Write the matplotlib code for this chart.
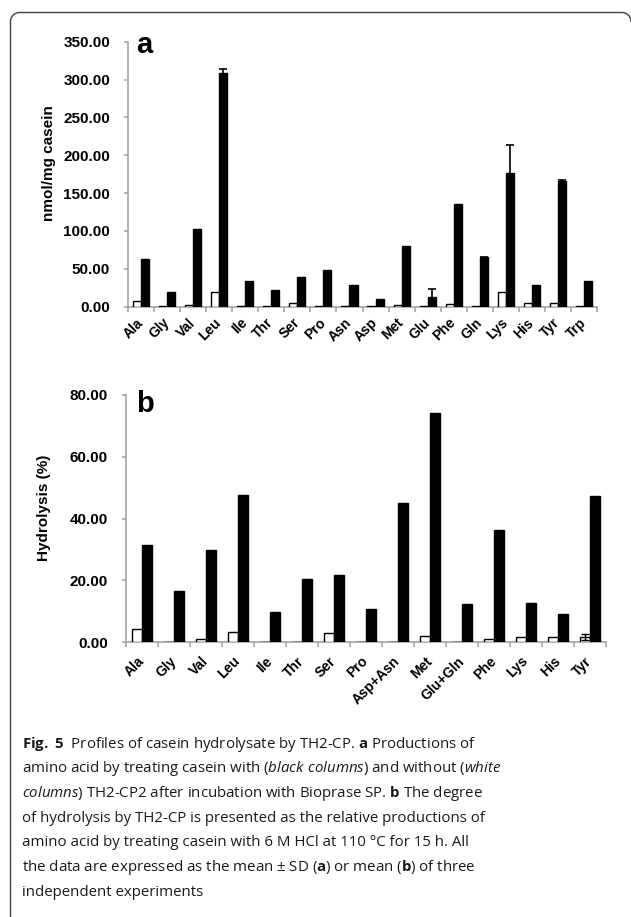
import numpy as np
import matplotlib
matplotlib.use('Agg')
import matplotlib.pyplot as plt
from matplotlib.lines import Line2D

# ---------------- data ----------------
cats_a = ['Ala', 'Gly', 'Val', 'Leu', 'Ile', 'Thr', 'Ser', 'Pro', 'Asn', 'Asp',
          'Met', 'Glu', 'Phe', 'Gln', 'Lys', 'His', 'Tyr', 'Trp']
with_a = [63, 20, 102, 308, 34, 22.5, 39, 49, 28, 10.5,
          80, 13, 135, 65, 177, 28, 166, 33.5]
with_a_sd = [0, 0, 0, 6, 0, 0, 0, 0, 0, 0,
             0, 11, 0, 1, 36.5, 0, 1, 0]
without_a = [7.5, 0.5, 2, 20, 0.3, 0.3, 4.5, 0.3, 0.3, 0.3,
             1.8, 0.3, 3, 0.3, 19, 4.5, 4.8, 1.3]
without_a_sd = [0] * 18

cats_b = ['Ala', 'Gly', 'Val', 'Leu', 'Ile', 'Thr', 'Ser', 'Pro', 'Asp+Asn',
          'Met', 'Glu+Gln', 'Phe', 'Lys', 'His', 'Tyr']
with_b = [31.4, 16.5, 29.9, 47.8, 9.9, 20.6, 21.9, 10.8, 45.2,
          74.3, 12.4, 36.4, 12.8, 9.3, 47.4]
with_b_sd = [0] * 15
without_b = [4.2, 0.1, 1.0, 3.3, 0.1, 0.1, 2.9, 0.1, 0.1,
             1.9, 0.1, 1.0, 1.7, 1.7, 1.8]
without_b_sd = [0] * 14 + [0.9]

caption_lines = [
    "$\\mathbf{Fig.\\ 5}$  Profiles of casein hydrolysate by TH2-CP. $\\mathbf{a}$ Productions of",
    "amino acid by treating casein with ($\\mathit{black\\ columns}$) and without ($\\mathit{white}$",
    "$\\mathit{columns}$) TH2-CP2 after incubation with Bioprase SP. $\\mathbf{b}$ The degree",
    "of hydrolysis by TH2-CP is presented as the relative productions of",
    "amino acid by treating casein with 6 M HCl at 110 \u00b0C for 15 h. All",
    "the data are expressed as the mean \u00b1 SD ($\\mathbf{a}$) or mean ($\\mathbf{b}$) of three",
    "independent experiments",
]

# ---------------- style ----------------
plt.rcParams['mathtext.fontset'] = 'custom'
plt.rcParams['mathtext.rm'] = 'Open Sans'
plt.rcParams['mathtext.bf'] = 'Open Sans:bold'
plt.rcParams['mathtext.it'] = 'Open Sans:italic'

W, H = 631, 917
fig = plt.figure(figsize=(W / 100, H / 100), dpi=100)
fig.patch.set_facecolor('white')

AX_GRAY = '#a6a6a6'
TF = 'Liberation Sans'


def px_rect(l, t, r, b):
    return [l / W, 1 - b / H, (r - l) / W, (b - t) / H]


def draw_panel(rect, cats, black, black_sd, white, white_sd, ymax, ystep,
               bw, label_pad):
    ax = fig.add_axes(rect)
    n = len(cats)
    x = np.arange(n)
    ax.bar(x - bw / 2, white, bw, color='white', edgecolor='black',
           linewidth=1.0, zorder=3)
    ax.bar(x + bw / 2, black, bw, color='black', edgecolor='black',
           linewidth=1.0, zorder=3)
    bsd = np.array(black_sd, float)
    wsd = np.array(white_sd, float)
    m = bsd > 0
    if m.any():
        ax.errorbar((x + bw / 2)[m], np.array(black, float)[m], yerr=bsd[m],
                    fmt='none', ecolor='black', elinewidth=1.2, capsize=3,
                    capthick=1.2, zorder=4)
    m = wsd > 0
    if m.any():
        ax.errorbar((x - bw / 2)[m], np.array(white, float)[m], yerr=wsd[m],
                    fmt='none', ecolor='black', elinewidth=1.0, capsize=3,
                    capthick=1.0, zorder=4)
    ax.set_xlim(-0.5, n - 0.5)
    ax.set_ylim(0, ymax)
    for s in ['top', 'right']:
        ax.spines[s].set_visible(False)
    for s in ['left', 'bottom']:
        ax.spines[s].set_color(AX_GRAY)
        ax.spines[s].set_linewidth(1.2)
    ax.set_xticks(np.arange(n + 1) - 0.5)
    ax.set_xticklabels([])
    ax.set_xticks(x, minor=True)
    ax.set_xticklabels(cats, minor=True, rotation=45, ha='right', va='center',
                       rotation_mode='anchor', fontfamily=TF,
                       fontweight='bold', fontsize=10)
    ax.tick_params(axis='x', which='major', length=3.5, color=AX_GRAY,
                   width=1.2, direction='out')
    ax.tick_params(axis='x', which='minor', length=0, pad=label_pad)
    yt = np.arange(0, ymax + ystep / 2, ystep)
    ax.set_yticks(yt)
    ax.set_yticklabels([f'{v:.2f}' for v in yt], fontfamily=TF,
                       fontweight='bold', fontsize=11)
    ax.tick_params(axis='y', length=3, color=AX_GRAY, width=1.2, pad=10)
    return ax


ax_a = draw_panel(px_rect(128, 41.7, 597, 306.7), cats_a, with_a, with_a_sd,
                  without_a, without_a_sd, 350, 50, 0.31, 10)
ax_b = draw_panel(px_rect(126, 395, 606, 642.3), cats_b, with_b, with_b_sd,
                  without_b, without_b_sd, 80, 20, 0.30, 12)

# axis titles and panel letters
fig.text(48.7 / W, 1 - 163 / H, 'nmol/mg casein', rotation=90, ha='center',
         va='center', fontfamily=TF, fontweight='bold', fontsize=11)
fig.text(44 / W, 1 - 508 / H, 'Hydrolysis (%)', rotation=90, ha='center',
         va='center', fontfamily=TF, fontweight='bold', fontsize=11)
fig.text(136 / W, 1 - 53 / H, 'a', ha='left', va='baseline', fontfamily=TF,
         fontweight='bold', fontsize=21)
fig.text(136 / W, 1 - 411.7 / H, 'b', ha='left', va='baseline', fontfamily=TF,
         fontweight='bold', fontsize=21)

# caption
renderer = fig.canvas.get_renderer()
probe = fig.text(0, 0, caption_lines[3], fontfamily='Open Sans', fontsize=10)
wpx = probe.get_window_extent(renderer).width
probe.remove()
cap_fs = 10 * 461 / wpx
y0, dy = 747.5, 24.7
for i, line in enumerate(caption_lines):
    fig.text(21.7 / W, 1 - (y0 + i * dy) / H, line, ha='left', va='baseline',
             fontfamily='Open Sans', fontsize=cap_fs, color='#1a1a1a')

# frame (top and left border with rounded corners)
r = 9
xl, yt_ = 10.5, 12.5
xr = 622
pts = [(xl, H)]
pts.append((xl, yt_ + r))
for a in np.linspace(np.pi, np.pi / 2, 12):
    pts.append((xl + r + r * np.cos(a), yt_ + r - r * np.sin(a)))
pts.append((xr, yt_))
for a in np.linspace(np.pi / 2, 0, 12):
    pts.append((xr + r * np.cos(a), yt_ + r - r * np.sin(a)))
px_, py_ = zip(*pts)
fig.add_artist(Line2D(np.array(px_) / W, 1 - np.array(py_) / H,
                      transform=fig.transFigure, color='#404040', lw=1.0))

fig.savefig('out.png', dpi=100)
